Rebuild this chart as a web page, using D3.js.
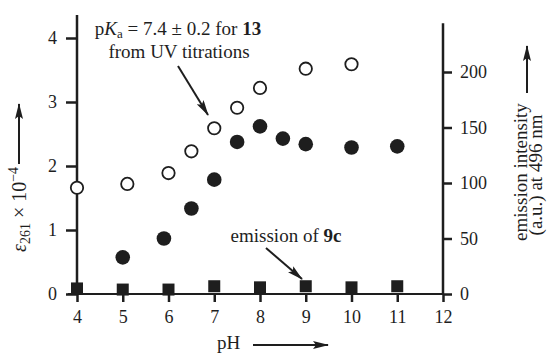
<!DOCTYPE html>
<html>
<head>
<meta charset="utf-8">
<script src="https://d3js.org/d3.v7.min.js"></script>
<style>
  body {margin:0; background:#fff;}
</style>
</head>
<body>
<svg id="chart"></svg>
<script>
// open circles: UV titration of 13 (left axis, eps x 10^-4)
const ph_uv = [4, 5.1, 6, 6.5, 7, 7.5, 8, 9, 10];
const eps_uv = [1.66, 1.72, 1.89, 2.23, 2.59, 2.91, 3.22, 3.52, 3.59];
// filled circles: emission of 13 (right axis)
const ph_em13 = [5, 5.9, 6.5, 7, 7.5, 8, 8.5, 9, 10, 11];
const em13 = [33, 50, 77, 103, 137, 151, 140, 135, 132, 133];
// filled squares: emission of 9c (right axis)
const ph_em9c = [4, 5, 6, 7, 8, 9, 10, 11];
const em9c = [5, 4, 4, 7, 6, 7, 6, 7];
const xticks = [4, 5, 6, 7, 8, 9, 10, 11, 12];
const lticks = [0, 1, 2, 3, 4];
const rticks = [0, 50, 100, 150, 200];

const W = 553, H = 358;
const FONT = "'Liberation Serif','Times New Roman',serif";
const svg = d3.select('#chart').attr('width', W).attr('height', H);
const ink = '#1e1e1e';

const x = d3.scaleLinear().domain([4, 12]).range([77, 443]);
const yl = d3.scaleLinear().domain([0, 4]).range([294, 38]);
const yr = d3.scaleLinear().domain([0, 200]).range([294, 72]);

function styleAxis(g) {
  g.select('.domain').remove();
  g.selectAll('.tick line').attr('stroke', ink).attr('stroke-width', 2.5);
  g.selectAll('.tick text').attr('font-size', 18).attr('fill', ink);
}

svg.append('g').attr('transform', 'translate(0,294)')
   .call(d3.axisBottom(x).tickValues(xticks).tickFormat(d3.format('d')).tickSize(8).tickPadding(8))
   .call(styleAxis);
svg.append('g').attr('transform', 'translate(77,0)')
   .call(d3.axisLeft(yl).tickValues(lticks).tickFormat(d3.format('d')).tickSize(11).tickPadding(9))
   .call(styleAxis);
svg.append('g').attr('transform', 'translate(443,0)')
   .call(d3.axisRight(yr).tickValues(rticks).tickFormat(d3.format('d')).tickSize(9).tickPadding(8))
   .call(styleAxis);

// axis lines
svg.append('line').attr('x1', x(3.8)).attr('x2', x(12)).attr('y1', yl(0)).attr('y2', yl(0))
   .attr('stroke', ink).attr('stroke-width', 2);
svg.append('line').attr('x1', x(4)).attr('x2', x(4)).attr('y1', yl(0) + 1).attr('y2', yl(4.36))
   .attr('stroke', ink).attr('stroke-width', 2.5);
svg.append('line').attr('x1', x(12)).attr('x2', x(12)).attr('y1', yr(0) + 1).attr('y2', yr(244))
   .attr('stroke', ink).attr('stroke-width', 2.5);

// squares
svg.append('g').selectAll('rect').data(ph_em9c).join('rect')
   .attr('x', d => x(d) - 6).attr('y', (d, i) => yr(em9c[i]) - 6)
   .attr('width', 12).attr('height', 12).attr('fill', ink);

// filled circles
svg.append('g').selectAll('circle').data(ph_em13).join('circle')
   .attr('cx', d => x(d)).attr('cy', (d, i) => yr(em13[i]))
   .attr('r', 7.3).attr('fill', ink);

// open circles
svg.append('g').selectAll('circle').data(ph_uv).join('circle')
   .attr('cx', d => x(d)).attr('cy', (d, i) => yl(eps_uv[i]))
   .attr('r', 6.2).attr('fill', '#fff').attr('stroke', ink).attr('stroke-width', 1.8);

// arrow helper
const defs = svg.append('defs');
defs.append('marker').attr('id', 'head').attr('viewBox', '0 -4 16 8')
    .attr('refX', 15).attr('refY', 0).attr('markerWidth', 16).attr('markerHeight', 8)
    .attr('markerUnits', 'userSpaceOnUse').attr('orient', 'auto')
  .append('path').attr('d', 'M0,-4L16,0L0,4L3,0Z').attr('fill', ink);
function arrow(x1, y1, x2, y2) {
  svg.append('line').attr('x1', x1).attr('y1', y1).attr('x2', x2).attr('y2', y2)
     .attr('stroke', ink).attr('stroke-width', 2).attr('marker-end', 'url(#head)');
}

// annotation: pKa
const t1 = svg.append('text').attr('x', 178).attr('y', 35).attr('text-anchor', 'middle')
   .attr('font-size', 19);
t1.append('tspan').text('p');
t1.append('tspan').attr('font-style', 'italic').text('K');
t1.append('tspan').attr('font-size', 13).attr('dy', 3).text('a');
t1.append('tspan').attr('dy', -3).text(' = 7.4 ± 0.2 for ');
t1.append('tspan').attr('font-weight', 'bold').text('13');
svg.append('text').attr('x', 179).attr('y', 58).attr('text-anchor', 'middle')
   .attr('font-size', 19).text('from UV titrations');
arrow(178, 66, 208, 115);

// annotation: 9c
const t2 = svg.append('text').attr('x', 286).attr('y', 242).attr('text-anchor', 'middle')
   .attr('font-size', 19);
t2.append('tspan').text('emission of ');
t2.append('tspan').attr('font-weight', 'bold').text('9c');
arrow(266, 248, 302, 279);

// x label
svg.append('text').attr('x', 217).attr('y', 349).attr('font-size', 19).text('pH');
arrow(253, 345, 328, 345);

// left label
const tl = svg.append('text').attr('transform', 'translate(26,252) rotate(-90)')
   .attr('font-size', 20);
tl.append('tspan').attr('font-style', 'italic').text('ε');
tl.append('tspan').attr('font-size', 14).attr('dy', 4).text('261');
tl.append('tspan').attr('dy', -4).text(' × 10');
tl.append('tspan').attr('font-size', 14).attr('dy', -8).text('−4');
arrow(19, 164, 19, 104);

// right label
svg.append('text').attr('transform', 'translate(527,172) rotate(-90)')
   .attr('text-anchor', 'middle').attr('font-size', 19).text('emission intensity');
svg.append('text').attr('transform', 'translate(542,175) rotate(-90)')
   .attr('text-anchor', 'middle').attr('font-size', 19).text('(a.u.) at 496 nm');
arrow(527, 93, 527, 46);

svg.selectAll('text').style('font-family', FONT).style('fill', ink);
</script>
</body>
</html>
